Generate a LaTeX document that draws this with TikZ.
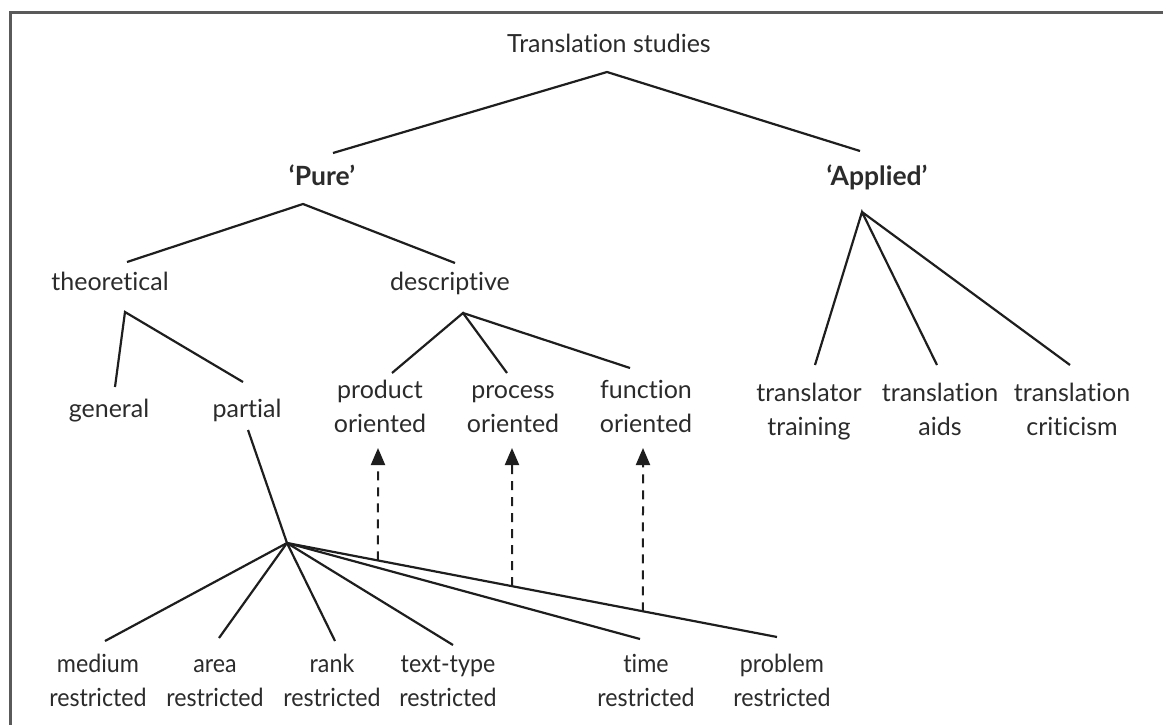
\documentclass[tikz,border=0pt]{standalone}
\usepackage{fontspec}
\setmainfont[Ligatures={NoCommon}]{Lato}
\newfontfamily\narrowlato[Ligatures={NoCommon},FakeStretch=0.93]{Lato}
\usetikzlibrary{arrows.meta,calc}
\definecolor{txt}{HTML}{2B2B2B}
\definecolor{ln}{HTML}{1E1E1E}
\definecolor{frame}{HTML}{5A5A5A}
\begin{document}
\begin{tikzpicture}[x=1pt,y=-1pt,
  lbl/.style={font=\fontsize{25}{34}\selectfont, text=txt, inner sep=0pt, align=center, anchor=base},
  nlbl/.style={lbl, font=\narrowlato\fontsize{25}{34}\selectfont},
  blbl/.style={lbl, font=\fontsize{26.5}{34}\selectfont\bfseries},
  edge/.style={draw=ln, line width=2.2pt},
  dasharrow/.style={draw=ln, line width=2pt, dash pattern=on 9pt off 7pt, -{Triangle[length=17pt,width=14pt]}},
  frameline/.style={draw=frame, line width=3pt}]
\useasboundingbox (0,0) rectangle (1163,725);
\begin{scope}
\clip (0,0) rectangle (1163,725);
\draw[frameline] (10,760) -- (10,13) -- (1190,13);
\end{scope}

% labels (base anchor = baseline of the last line)
\node[lbl] (ts) at (609,53) {Translation studies};
\node[blbl] (pure) at (322,185) {‘Pure’};
\node[blbl] (appl) at (877,185) {‘Applied’};
\node[lbl] (theo) at (110,290) {theoretical};
\node[lbl] (desc) at (450,290) {descriptive};
\node[lbl] (gen) at (109,417) {general};
\node[lbl] (part) at (247,417) {partial};
\node[lbl] (prod) at (380,432) {product\\oriented};
\node[lbl] (proc) at (513,432) {process\\oriented};
\node[lbl] (func) at (646,432) {function\\oriented};
\node[lbl] (trtr) at (809,435) {translator\\training};
\node[lbl] (tra) at (940,435) {translation\\aids};
\node[lbl] (trc) at (1072,435) {translation\\criticism};
\node[nlbl] (med) at (98,706) {medium\\restricted};
\node[nlbl] (area) at (215,706) {area\\restricted};
\node[nlbl] (rank) at (332,706) {rank\\restricted};
\node[nlbl] (tt) at (448,706) {text-type\\restricted};
\node[nlbl] (time) at (646,706) {time\\restricted};
\node[nlbl] (prob) at (782,706) {problem\\restricted};

% junction points
\coordinate (tsB) at (607,72);
\coordinate (pureT) at (333,153);
\coordinate (applT) at (860,151);
\coordinate (pureB) at (303,204);
\coordinate (theoT) at (127,262);
\coordinate (descT) at (455,263);
\coordinate (theoB) at (125,312);
\coordinate (genT) at (115,387);
\coordinate (partT) at (243,382);
\coordinate (descB) at (463,313);
\coordinate (prodT) at (392,373);
\coordinate (procT) at (507,373);
\coordinate (funcT) at (630,368);
\coordinate (applB) at (862,212);
\coordinate (trtrT) at (815,365);
\coordinate (traT) at (937,365);
\coordinate (trcT) at (1070,365);
\coordinate (partB) at (248,430);
\coordinate (hub) at (287,543);
\coordinate (medT) at (105,641);
\coordinate (areaT) at (219,638);
\coordinate (rankT) at (335,641);
\coordinate (ttT) at (453,645);
\coordinate (timeT) at (640,639);
\coordinate (probT) at (777,637);
\coordinate (prodA) at (378,448);
\coordinate (procA) at (512,448);
\coordinate (funcA) at (643,448);

% tree edges
\draw[edge] (pureT) -- (tsB) -- (applT);
\draw[edge] (theoT) -- (pureB) -- (descT);
\draw[edge] (genT) -- (theoB) -- (partT);
\draw[edge] (prodT) -- (descB) -- (procT);
\draw[edge] (descB) -- (funcT);
\draw[edge] (trtrT) -- (applB) -- (traT);
\draw[edge] (applB) -- (trcT);
\draw[edge] (partB) -- (hub);
\foreach \t in {medT,areaT,rankT,ttT,timeT,probT} \draw[edge] (hub) -- (\t);

% dashed arrows from the problem line
\draw[dasharrow] ($(hub)!0.1857!(probT)$) -- (prodA);
\draw[dasharrow] ($(hub)!0.4592!(probT)$) -- (procA);
\draw[dasharrow] ($(hub)!0.7265!(probT)$) -- (funcA);
\end{tikzpicture}
\end{document}
